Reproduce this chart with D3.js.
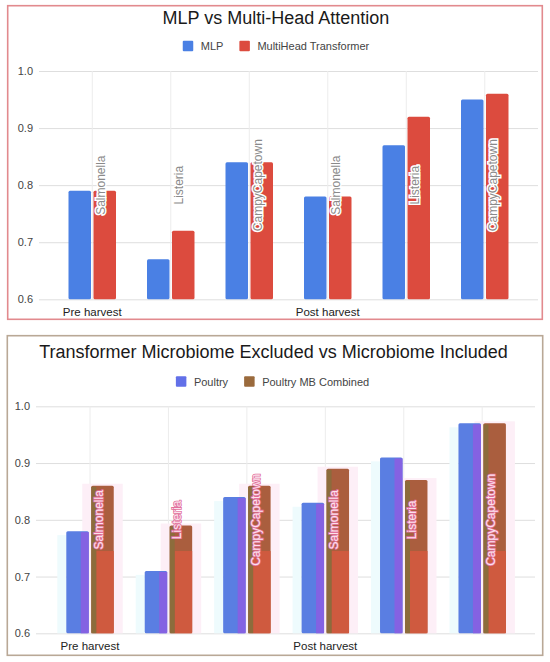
<!DOCTYPE html>
<html>
<head>
<meta charset="utf-8">
<script src="https://cdn.jsdelivr.net/npm/d3@7"></script>
<style>
  body { margin: 0; background: #fff; }
  text { font-family: "Liberation Sans", Arial, sans-serif; }
</style>
</head>
<body>
<svg id="chart" width="550" height="662"></svg>
<script>
// data
const pathogens = ["Salmonella", "Listeria", "CampyCapetown", "Salmonella", "Listeria", "CampyCapetown"];
const stageNames = ["Pre harvest", "Post harvest"];
const stageOf = [0, 1, 1, 1, 1, 1];
const yTicks = [0.6, 0.7, 0.8, 0.9, 1.0];

const topSeries = ["MLP", "MultiHead Transformer"];
const mlp = [0.79, 0.67, 0.84, 0.78, 0.87, 0.95];
const multiHead = [0.79, 0.72, 0.84, 0.78, 0.92, 0.96];

const bottomSeries = ["Poultry", "Poultry MB Combined"];
const poultry = [0.78, 0.71, 0.84, 0.83, 0.91, 0.97];
const poultryMB = [0.86, 0.79, 0.86, 0.89, 0.87, 0.97];

const svg = d3.select("#chart");

function drawChart(cfg) {
  const g = svg.append("g");

  // panel frame
  g.append("rect")
    .attr("x", cfg.frame[0]).attr("y", cfg.frame[1])
    .attr("width", cfg.frame[2]).attr("height", cfg.frame[3])
    .attr("fill", "none")
    .attr("stroke", cfg.frameColor)
    .attr("stroke-width", 1.6);

  const y = d3.scaleLinear().domain([0.6, 1.0]).range([cfg.yBottom, cfg.yTop]);

  const idx = d3.range(pathogens.length);
  const x0 = d3.scaleBand().domain(idx).range(cfg.bandRange)
    .paddingInner(0.395).paddingOuter(0.1975);
  const x1 = d3.scaleBand().domain(cfg.series).range([0, x0.bandwidth()]).paddingInner(0.1);

  // horizontal grid + y labels
  const yAxis = g.append("g")
    .attr("transform", `translate(${cfg.gridX0},0)`)
    .call(d3.axisLeft(y).tickValues(yTicks).tickFormat(d3.format(".1f"))
      .tickSize(-(cfg.gridX1 - cfg.gridX0)).tickPadding(6));
  yAxis.select(".domain").remove();
  yAxis.selectAll(".tick line").attr("stroke", "#dedede");
  yAxis.selectAll(".tick text")
    .attr("fill", "#444").style("font-size", "11px")
    .style("font-family", "'Liberation Sans', Arial, sans-serif");

  // vertical grid at category centres
  const xGrid = g.append("g")
    .attr("transform", `translate(0,${y(0.6)})`)
    .call(d3.axisBottom(x0).tickSize(-(y(0.6) - y(1.0))).tickFormat(""));
  xGrid.select(".domain").remove();
  xGrid.selectAll(".tick line").attr("stroke", "#ececec");

  // halos (only in the lower, recoloured picture)
  if (cfg.halo) {
    idx.forEach(i => {
      const xb = x0(i) + x1(cfg.series[0]);
      const xr = x0(i) + x1(cfg.series[1]);
      g.append("rect")
        .attr("x", xb - 9).attr("y", y(cfg.values[0][i]) + 4)
        .attr("width", 9).attr("height", y(0.6) - y(cfg.values[0][i]) - 4)
        .attr("fill", "#eefbfd");
      g.append("rect")
        .attr("x", xr - 9).attr("y", y(cfg.values[1][i]) - 2)
        .attr("width", x1.bandwidth() + 18).attr("height", y(0.6) - y(cfg.values[1][i]) + 2)
        .attr("fill", "#fdeff7");
    });
  }

  // bars
  cfg.series.forEach((s, si) => {
    g.append("g").selectAll("rect")
      .data(cfg.values[si])
      .join("rect")
      .attr("x", (d, i) => x0(i) + x1(s))
      .attr("y", d => y(d))
      .attr("width", x1.bandwidth())
      .attr("height", d => y(0.6) - y(d))
      .attr("rx", 1.5)
      .attr("fill", cfg.colors[si]);
  });

  // recolour stripes seen in the lower picture
  if (cfg.halo) {
    const bw = x1.bandwidth();
    g.append("g").selectAll("rect")
      .data(cfg.values[0]).join("rect")
      .attr("x", (d, i) => x0(i) + x1(cfg.series[0]) + bw - 8)
      .attr("y", d => y(d) + 1)
      .attr("width", 8)
      .attr("height", d => y(0.6) - y(d) - 1)
      .attr("fill", "#8462e2");
    g.append("g").selectAll("rect")
      .data(cfg.values[1]).join("rect")
      .attr("x", (d, i) => x0(i) + x1(cfg.series[1]) + 5)
      .attr("y", y(0.745))
      .attr("width", bw - 5)
      .attr("height", y(0.6) - y(0.745))
      .attr("fill", "#cf5a3f");
    g.append("g").selectAll("rect")
      .data(cfg.values[1]).join("rect")
      .attr("x", (d, i) => x0(i) + x1(cfg.series[1]))
      .attr("y", d => y(d) + 1)
      .attr("width", 5)
      .attr("height", d => y(0.6) - y(d) - 1)
      .attr("fill", "#8c6c3c");
  }

  // rotated pathogen labels over the second series
  g.append("g").selectAll("text")
    .data(pathogens)
    .join("text")
    .attr("transform", (d, i) =>
      `translate(${x0(i) + x1(cfg.series[1]) + x1.bandwidth() / 2 - 4},${y(0.8)}) rotate(-90)`)
    .attr("text-anchor", "middle")
    .attr("dy", "0.35em")
    .style("font-size", "12px")
    .attr("fill", cfg.labelFill)
    .attr("stroke", cfg.labelStroke)
    .attr("stroke-width", cfg.labelStrokeWidth)
    .attr("paint-order", "stroke")
    .text(d => d);

  // stage labels under the axis
  stageNames.forEach((name, k) => {
    const members = idx.filter(i => stageOf[i] === k);
    const cx = d3.mean(members, i => x0(i) + x0.bandwidth() / 2);
    g.append("text")
      .attr("x", cx).attr("y", cfg.stageY)
      .attr("text-anchor", "middle")
      .attr("fill", "#222")
      .style("font-size", "11.5px")
      .text(name);
  });

  // title
  g.append("text")
    .attr("x", cfg.titleX).attr("y", cfg.titleY)
    .attr("text-anchor", "middle")
    .attr("fill", "#1a1a1a")
    .style("font-size", "18px")
    .text(cfg.title);

  // legend, centred
  const leg = g.append("g");
  let cx = 0;
  cfg.series.forEach((s, si) => {
    const item = leg.append("g").attr("transform", `translate(${cx},0)`);
    item.append("rect")
      .attr("x", 0).attr("y", -5.5)
      .attr("width", 10.5).attr("height", 10.5)
      .attr("rx", 1)
      .attr("fill", cfg.legendColors[si]);
    const t = item.append("text")
      .attr("x", 18).attr("y", 0).attr("dy", "0.35em")
      .attr("fill", "#444")
      .style("font-size", "11px")
      .text(s);
    cx += 18 + t.node().getComputedTextLength() + 16;
  });
  const legW = cx - 16;
  leg.attr("transform", `translate(${cfg.legendCx - legW / 2},${cfg.legendY})`);
}

drawChart({
  title: "MLP vs Multi-Head Attention",
  series: topSeries,
  values: [mlp, multiHead],
  colors: ["#4a80e4", "#dc4b3e"],
  legendColors: ["#4a80e4", "#dc4b3e"],
  frame: [7.7, 5.7, 534.6, 313.6],
  frameColor: "#e28a8e",
  yTop: 71, yBottom: 299.3,
  gridX0: 39, gridX1: 538,
  bandRange: [53, 524],
  titleX: 276, titleY: 24,
  legendCx: 276, legendY: 46.2,
  stageY: 315.5,
  labelFill: "#8a8a8a", labelStroke: "#fff", labelStrokeWidth: 3,
  halo: false
});

drawChart({
  title: "Transformer Microbiome Excluded vs Microbiome Included",
  series: bottomSeries,
  values: [poultry, poultryMB],
  colors: ["#5a7ee2", "#aa5e3e"],
  legendColors: ["#6270e8", "#9a6a3c"],
  frame: [7.3, 335.7, 535.4, 319.6],
  frameColor: "#b9a896",
  yTop: 406.3, yBottom: 633.3,
  gridX0: 36, gridX1: 535,
  bandRange: [50.8, 521.4],
  titleX: 273.5, titleY: 358.3,
  legendCx: 272.5, legendY: 381.7,
  stageY: 650,
  labelFill: "#fbe3ec", labelStroke: "#e2709c", labelStrokeWidth: 1.6,
  halo: true
});
</script>
</body>
</html>
